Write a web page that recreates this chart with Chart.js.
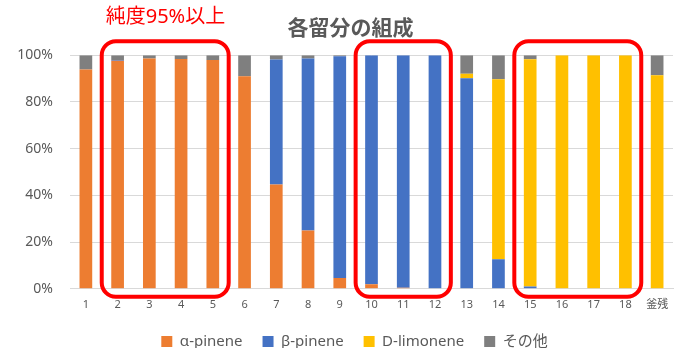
<!DOCTYPE html>
<html>
<head>
<meta charset="utf-8">
<script src="https://cdn.jsdelivr.net/npm/chart.js@4"></script>
<style>
  html, body { margin: 0; padding: 0; background: #fff; }
  #wrap { width: 679px; height: 348px; }
</style>
</head>
<body>
<div id="wrap"><canvas id="myChart"></canvas></div>
<script>
const labels = ['1','2','3','4','5','6','7','8','9','10','11','12','13','14','15','16','17','18','釜残'];
const alphaPinene = [93.9, 97.6, 98.6, 98.4, 97.9, 91.0, 44.6, 25.0, 4.6, 2.0, 0.4, 0, 0, 0, 0, 0, 0, 0, 0];
const betaPinene  = [0, 0.3, 0, 0, 0, 0, 53.6, 73.6, 95.0, 98.0, 99.6, 100, 90.1, 12.6, 1.0, 0, 0, 0, 0];
const dLimonene   = [0, 0, 0, 0, 0, 0, 0, 0, 0, 0, 0, 0, 2.0, 77.1, 97.3, 100, 100, 100, 91.4];
const others      = [6.1, 2.1, 1.4, 1.6, 2.1, 9.0, 1.8, 1.4, 0.4, 0, 0, 0, 7.9, 10.3, 1.7, 0, 0, 0, 8.6];
const yTicks = [0, 20, 40, 60, 80, 100];
// groups with purity >= 95% (category index ranges)
const highlightGroups = [[1, 4], [9, 11], [14, 17]];

const FONT = '"Noto Sans", "Noto Sans CJK JP", sans-serif';
const GRAY = '#595959';

// nudge title / legend a bit right, like the original
const shiftPlugin = {
    id: 'shift',
    afterLayout(c) {
        const move = (box, dx) => {
            if (!box) return;
            box.left += dx;
            box.right += dx;
        };
        move(c.titleBlock, 14);
        move(c.legend, 18);
    }
};

// red rounded boxes + note text
const highlightPlugin = {
    id: 'highlight',
    afterDatasetsDraw(c) {
        const x = c.scales.x, y = c.scales.y;
        const half = (x.getPixelForValue(1) - x.getPixelForValue(0)) / 2;
        const top = y.getPixelForValue(100) - 14;
        const bottom = y.getPixelForValue(0) + 8;
        const ctx = c.ctx;
        ctx.save();
        ctx.strokeStyle = '#FF0000';
        ctx.lineWidth = 4;
        highlightGroups.forEach(([a, b]) => {
            const l = x.getPixelForValue(a) - half;
            const r = x.getPixelForValue(b) + half;
            ctx.beginPath();
            ctx.roundRect(l, top, r - l, bottom - top, 14);
            ctx.stroke();
        });
        const l0 = x.getPixelForValue(highlightGroups[0][0]) - half;
        ctx.fillStyle = '#FF0000';
        ctx.font = '20px ' + FONT;
        ctx.textBaseline = 'middle';
        ctx.fillText('純度95%以上', l0 + 4, 17);
        ctx.restore();
    }
};

const chart = document.getElementById('myChart');
const myChart = new Chart(chart, {
    type: 'bar',
    data: {
        labels: labels,
        datasets: [
            { label: 'α-pinene', data: alphaPinene, backgroundColor: '#ED7D31' },
            { label: 'β-pinene', data: betaPinene, backgroundColor: '#4472C4' },
            { label: 'D-limonene', data: dLimonene, backgroundColor: '#FFC000' },
            { label: 'その他', data: others, backgroundColor: '#7F7F7F' }
        ]
    },
    options: {
        responsive: true,
        maintainAspectRatio: false,
        animation: false,
        datasets: {
            bar: { barPercentage: 0.4, categoryPercentage: 1.0, borderWidth: 0 }
        },
        layout: { padding: { left: 0, right: 6, top: 0, bottom: -11 } },
        scales: {
            x: {
                stacked: true,
                grid: { display: false, drawTicks: true, tickLength: 6 },
                border: { color: '#D9D9D9' },
                ticks: { color: GRAY, padding: 3, font: { family: FONT, size: 11 }, maxRotation: 0, autoSkip: false }
            },
            y: {
                stacked: true,
                min: 0,
                max: 100,
                afterFit(s) { s.width = 70; },
                afterBuildTicks(s) { s.ticks = yTicks.map(v => ({ value: v })); },
                grid: { color: '#D9D9D9', drawTicks: false },
                border: { display: false },
                ticks: {
                    color: GRAY,
                    padding: 17,
                    font: { family: FONT, size: 14 },
                    callback: v => v + '%'
                }
            }
        },
        plugins: {
            title: {
                display: true,
                text: '各留分の組成',
                color: GRAY,
                font: { family: FONT, size: 21, weight: 'bold' },
                padding: { top: 16, bottom: 14 }
            },
            legend: {
                position: 'bottom',
                labels: {
                    color: GRAY,
                    boxWidth: 11,
                    boxHeight: 11,
                    padding: 20,
                    font: { family: FONT, size: 15 }
                }
            },
            tooltip: { enabled: false }
        }
    },
    plugins: [shiftPlugin, highlightPlugin]
});
</script>
</body>
</html>
